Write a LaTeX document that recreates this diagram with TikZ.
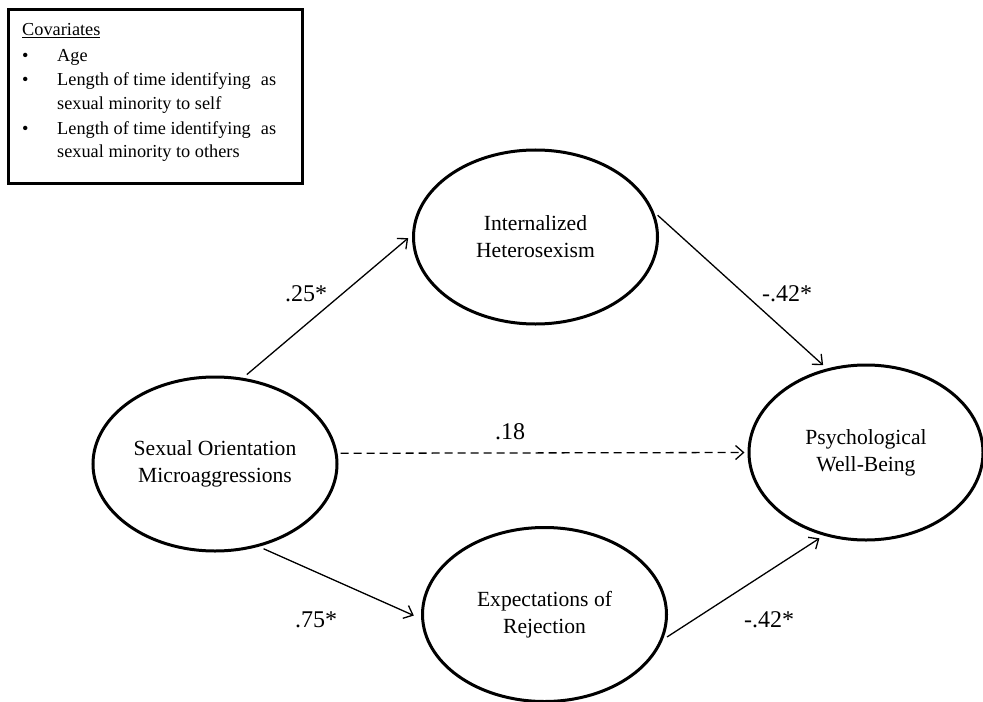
\documentclass[tikz,border=0pt]{standalone}
\usepackage{fontspec}
\setmainfont{Liberation Serif}
\usetikzlibrary{arrows.meta,shapes.geometric}
\tikzset{
  latent/.style={draw, ellipse, line width=3bp, minimum width=244bp, minimum height=174bp, align=center, inner sep=0pt,
    font=\fontsize{21.6bp}{27bp}\selectfont},
  path/.style={line width=1.3bp, -{Straight Barb[length=8bp,width=14bp,line width=1.3bp]}, shorten >=5bp, shorten <=5bp},
  dpath/.style={path, dash pattern=on 8bp off 5bp, shorten >=3bp, shorten <=3bp},
  coef/.style={font=\fontsize{24bp}{28bp}\selectfont, inner sep=0pt},
  covtext/.style={font=\fontsize{18.3bp}{22bp}\selectfont, anchor=base west, inner sep=0pt},
}
\begin{document}
\begin{tikzpicture}[x=1bp,y=-1bp]
\useasboundingbox (0,0) rectangle (983,702);
% covariates box
\node[draw, line width=3bp, minimum width=293bp, minimum height=173bp, inner sep=0pt] (cov) at (155.5,96.5) {};
\node[covtext] (c0) at (22,36) {\underline{Covariates}};
\node[covtext] (b1) at (22,62) {•};
\node[covtext] (c1) at (57,62) {Age};
\node[covtext] (b2) at (22,86) {•};
\node[covtext] (c2) at (57,86) {Length of time identifying\hspace{0.55em}as};
\node[covtext] (c3) at (57,110) {sexual minority to self};
\node[covtext] (b3) at (22,135) {•};
\node[covtext] (c4) at (57,135) {Length of time identifying\hspace{0.55em}as};
\node[covtext] (c5) at (57,158) {sexual minority to others};
% latent variables
\node[latent] (smi) at (215,464) {Sexual Orientation\\Microaggressions};
\node[latent] (ih) at (535.5,237) {Internalized\\Heterosexism};
\node[latent] (eor) at (544.5,614.5) {Expectations of\\Rejection};
\node[latent, minimum width=234bp, minimum height=175bp] (pwb) at (866,452.5) {Psychological\\Well-Being};
% paths
\draw[path] (smi.72) -- (ih.179);
\draw[path] (ih.12) -- (pwb.115);
\draw[path, shorten >=8bp] (smi.-62) -- (eor.182);
\draw[path] (eor.-12) -- (pwb.243);
\draw[dpath] (smi.5) -- (pwb.180);
% coefficients
\node[coef] (l1) at (306,294) {.25*};
\node[coef] (l2) at (787,294) {-.42*};
\node[coef] (l3) at (510,432) {.18};
\node[coef] (l4) at (316,620) {.75*};
\node[coef] (l5) at (769,620) {-.42*};
\end{tikzpicture}
\end{document}
